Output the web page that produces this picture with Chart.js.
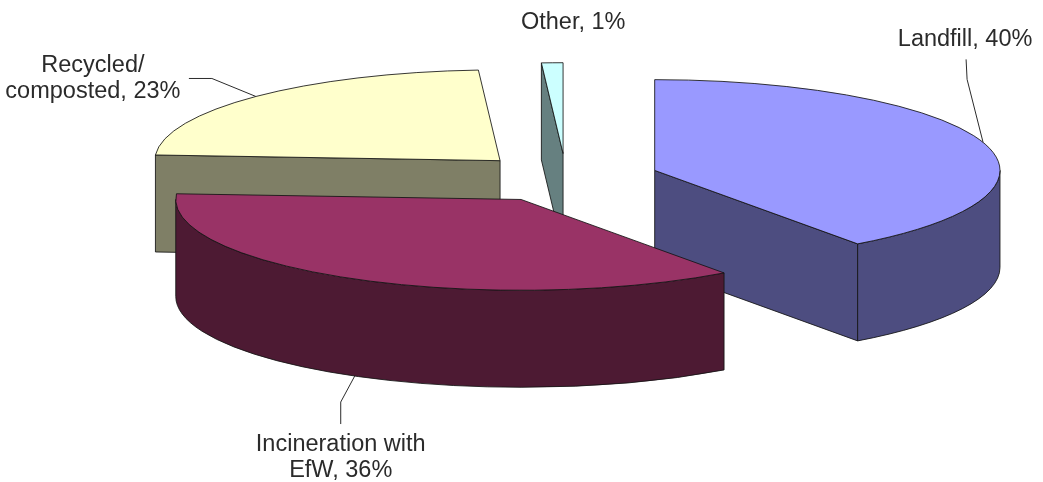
<!DOCTYPE html>
<html>
<head>
<meta charset="utf-8">
<title>Waste management</title>
<script src="https://cdn.jsdelivr.net/npm/chart.js@4.4.1/dist/chart.umd.min.js"></script>
<style>
    html, body { margin: 0; padding: 0; background: #fff; }
    #wrap { width: 1043px; height: 482px; position: relative; }
</style>
</head>
<body>
<div id="wrap"><canvas id="pieChart"></canvas></div>
<script>
    const categories = ['Landfill', 'Incineration with\nEfW', 'Recycled/\ncomposted', 'Other'];
    const shares = [40, 36, 23, 1];

    const topColors = ['#9999ff', '#993366', '#ffffcc', '#ccffff'];
    const sideColors = ['#4d4d80', '#4d1a33', '#7f7f66', '#668080'];
    const edgeColor = 'rgba(20,20,20,0.85)';
    const textColor = '#2b2b2b';

    // tilted pie shape, as multiples of the radius chart.js works out
    const tilt = { rx: 1.94, ry: 0.51, depth: 0.545, explode: 0.27 };

    // leader line bends and text centre, relative to where the leader meets the slice
    const callouts = [
        { path: [[-16, -63], [-17, -83]], text: [-18, -103] },
        { path: [[-14, 26], [-14, 48]], text: [-14, 68] },
        { path: [[-44, -18], [-67, -18]], text: [-163, -31] },
        { path: [], text: [21, -40] }
    ];
    const lineGap = 26.5;

    function sliceGeom(arc) {
        const R = arc.outerRadius;
        const rx = R * tilt.rx, ry = R * tilt.ry;
        const mid = (arc.startAngle + arc.endAngle) / 2;
        return {
            x: arc.x + Math.cos(mid) * rx * tilt.explode,
            y: arc.y + Math.sin(mid) * ry * tilt.explode,
            rx, ry, mid,
            a1: arc.startAngle,
            a2: arc.endAngle,
            depth: R * tilt.depth
        };
    }

    function rim(g, a, dy) {
        return [g.x + Math.cos(a) * g.rx, g.y + Math.sin(a) * g.ry + (dy || 0)];
    }

    function paint(ctx) {
        ctx.fill();
        ctx.stroke();
    }

    function drawSlice(ctx, g, top, side) {
        ctx.lineWidth = 1;
        ctx.lineJoin = 'round';
        ctx.strokeStyle = edgeColor;
        ctx.fillStyle = side;

        // flat cut faces, only those turned towards us
        const cuts = [[g.a1, -Math.cos(g.a1)], [g.a2, Math.cos(g.a2)]];
        cuts.forEach(([a, facing]) => {
            if (facing <= 1e-6) return;
            const p = rim(g, a);
            ctx.beginPath();
            ctx.moveTo(g.x, g.y);
            ctx.lineTo(p[0], p[1]);
            ctx.lineTo(p[0], p[1] + g.depth);
            ctx.lineTo(g.x, g.y + g.depth);
            ctx.closePath();
            paint(ctx);
        });

        // curved outer wall, front half only
        const fronts = [[0, Math.PI], [2 * Math.PI, 3 * Math.PI], [-2 * Math.PI, -Math.PI]];
        fronts.forEach(([lo, hi]) => {
            const b1 = Math.max(g.a1, lo), b2 = Math.min(g.a2, hi);
            if (b2 - b1 < 1e-4) return;
            ctx.beginPath();
            ctx.ellipse(g.x, g.y, g.rx, g.ry, 0, b1, b2);
            ctx.ellipse(g.x, g.y + g.depth, g.rx, g.ry, 0, b2, b1, true);
            ctx.closePath();
            paint(ctx);
        });

        // top face
        ctx.fillStyle = top;
        ctx.beginPath();
        ctx.moveTo(g.x, g.y);
        ctx.ellipse(g.x, g.y, g.rx, g.ry, 0, g.a1, g.a2);
        ctx.closePath();
        paint(ctx);
    }

    function drawCallout(ctx, g, i) {
        const c = callouts[i];
        const front = Math.sin(g.mid) > 0;
        const [ax, ay] = rim(g, g.mid, front ? g.depth : 0);

        if (c.path.length) {
            ctx.strokeStyle = textColor;
            ctx.lineWidth = 1;
            ctx.beginPath();
            ctx.moveTo(ax, ay);
            c.path.forEach(([dx, dy]) => ctx.lineTo(ax + dx, ay + dy));
            ctx.stroke();
        }

        const lines = (categories[i] + ', ' + shares[i] + '%').split('\n');
        ctx.fillStyle = textColor;
        ctx.font = '23.5px "Liberation Sans", Arial, sans-serif';
        ctx.textAlign = 'center';
        ctx.textBaseline = 'middle';
        lines.forEach((t, k) => ctx.fillText(t, ax + c.text[0], ay + c.text[1] + k * lineGap));
    }

    const pie3d = {
        id: 'pie3d',
        beforeDatasetsDraw(chart) {
            const ctx = chart.ctx;
            const arcs = chart.getDatasetMeta(0).data;
            const geoms = arcs.map(sliceGeom);
            const order = geoms.map((g, i) => i).sort((a, b) => geoms[a].y - geoms[b].y);

            ctx.save();
            order.forEach(i => drawSlice(ctx, geoms[i], topColors[i], sideColors[i]));
            geoms.forEach((g, i) => drawCallout(ctx, g, i));
            ctx.restore();
            return false;
        }
    };

    new Chart(document.getElementById('pieChart').getContext('2d'), {
        type: 'pie',
        data: {
            labels: categories,
            datasets: [{
                data: shares,
                backgroundColor: topColors,
                borderWidth: 0
            }]
        },
        options: {
            responsive: true,
            maintainAspectRatio: false,
            animation: false,
            layout: { padding: { left: 89, right: 0, top: 0, bottom: 126 } },
            plugins: {
                legend: { display: false },
                tooltip: { enabled: false }
            }
        },
        plugins: [pie3d]
    });
</script>
</body>
</html>
